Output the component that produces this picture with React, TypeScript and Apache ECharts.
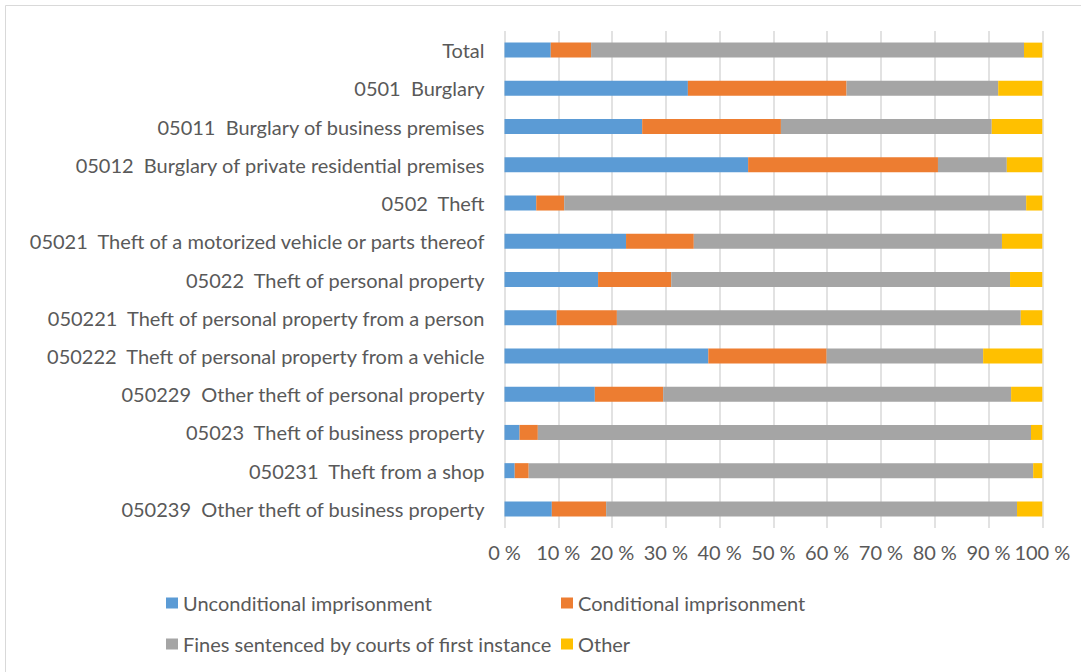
import React, { useEffect, useRef } from "react";
import * as echarts from "echarts";

const categories = [
  "Total",
  "0501  Burglary",
  "05011  Burglary of business premises",
  "05012  Burglary of private residential premises",
  "0502  Theft",
  "05021  Theft of a motorized vehicle or parts thereof",
  "05022  Theft of personal property",
  "050221  Theft of personal property from a person",
  "050222  Theft of personal property from a vehicle",
  "050229  Other theft of personal property",
  "05023  Theft of business property",
  "050231  Theft from a shop",
  "050239  Other theft of business property",
];

const unconditional = [8.6, 34.1, 25.6, 45.3, 5.9, 22.6, 17.4, 9.7, 37.9, 16.8, 2.8, 1.9, 8.8];
const conditional = [7.5, 29.5, 25.8, 35.3, 5.2, 12.6, 13.6, 11.2, 22.0, 12.7, 3.4, 2.6, 10.1];
const fines = [80.5, 28.2, 39.2, 12.8, 85.9, 57.3, 63.0, 75.1, 29.1, 64.7, 91.7, 93.8, 76.4];
const other = [3.4, 8.2, 9.4, 6.6, 3.0, 7.5, 6.0, 4.0, 11.0, 5.8, 2.1, 1.7, 4.7];

const seriesNames = [
  "Unconditional imprisonment",
  "Conditional imprisonment",
  "Fines sentenced by courts of first instance",
  "Other",
];
const seriesColors = ["#5B9BD5", "#ED7D31", "#A5A5A5", "#FFC000"];
const seriesData = [unconditional, conditional, fines, other];

const FONT = "Lato";
const TEXT_COLOR = "#595959";

export default function App() {
  const ref = useRef<HTMLDivElement>(null);
  useEffect(() => {
    if (!ref.current) return;
    const chart = echarts.init(ref.current, undefined, { renderer: "svg" });
    const legendPos = [
      { left: 166, top: 593 },
      { left: 561, top: 593 },
      { left: 166, top: 634 },
      { left: 561, top: 634 },
    ];
    chart.setOption({
      animation: false,
      graphic: [
        {
          type: "rect",
          shape: { x: 5.5, y: 5.5, width: 1100, height: 700 },
          style: { fill: "none", stroke: "#D9D9D9", lineWidth: 1 },
          silent: true,
        },
      ],
      legend: seriesNames.map((n, i) => ({
        data: [n],
        left: legendPos[i].left,
        top: legendPos[i].top,
        itemWidth: 12,
        itemHeight: 11,
        icon: "rect",
        padding: 0,
        textStyle: { color: TEXT_COLOR, fontFamily: FONT, fontSize: 20 },
        selectedMode: false,
      })),
      grid: { left: 504.5, right: 38.7, top: 31, height: 497, containLabel: false },
      xAxis: {
        type: "value",
        min: 0,
        max: 100,
        interval: 10,
        axisLine: { show: false },
        axisTick: { show: false },
        axisLabel: {
          color: TEXT_COLOR,
          fontFamily: FONT,
          fontSize: 20,
          margin: 14,
          formatter: (v: number) => `${v}\u202F%`,
        },
        splitLine: { show: true, lineStyle: { color: "#D9D9D9", width: 1.5 } },
      },
      yAxis: {
        type: "category",
        data: categories,
        inverse: true,
        axisLine: { show: false },
        axisTick: { show: false },
        axisLabel: {
          color: TEXT_COLOR,
          fontFamily: FONT,
          fontSize: 20,
          margin: 20,
        },
      },
      series: seriesNames.map((n, i) => ({
        name: n,
        type: "bar",
        stack: "total",
        barWidth: 15,
        data: seriesData[i],
        itemStyle: { color: seriesColors[i] },
      })),
    });
    return () => chart.dispose();
  }, []);
  return (
    <div
      ref={ref}
      style={{ position: "fixed", left: 0, top: 0, width: 1081, height: 672, background: "#fff" }}
    />
  );
}
